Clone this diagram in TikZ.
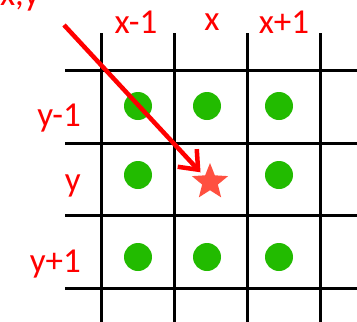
\documentclass[tikz,border=0pt]{standalone}
\usepackage{fontspec}
\setmainfont{Carlito}
\usetikzlibrary{arrows.meta,shapes.geometric}
\definecolor{dotgreen}{HTML}{22BB00}
\definecolor{starred}{HTML}{FF5040}

\begin{document}
\begin{tikzpicture}[
    x=1pt, y=-1pt,
    gridline/.style={black, line width=3pt},
    cell/.style={circle, fill=dotgreen, inner sep=0pt, minimum size=28pt},
    centre/.style={star, star points=5, star point ratio=2.3, fill=starred, inner sep=0pt, minimum size=38pt},
    label/.style={text=red, font=\fontsize{35}{40}\selectfont, inner sep=0pt},
    pointer/.style={-{Straight Barb[length=16pt, width=26pt, line width=4.5pt]}, red, line width=4.5pt}
]
    \useasboundingbox (0,0) rectangle (357,322);

    % Grid
    \foreach \gy in {70,143,215,288}
        \draw[gridline] (65,\gy) -- (357,\gy);
    \foreach \gx in {101,174,247,320}
        \draw[gridline] (\gx,33) -- (\gx,322);

    % Neighbours
    \node[cell] (nw) at (138,106) {};
    \node[cell] (n)  at (207,106) {};
    \node[cell] (ne) at (279,106) {};
    \node[cell] (w)  at (138,175) {};
    \node[cell] (e)  at (279,175) {};
    \node[cell] (sw) at (138,257) {};
    \node[cell] (s)  at (207,257) {};
    \node[cell] (se) at (279,257) {};
    \node[centre] (xy) at (210,182) {};

    % Labels
    \node[label] (xm) at (136,22) {x-1};
    \node[label] (x0) at (212,22) {x};
    \node[label] (xp) at (284,22) {x+1};
    \node[label, anchor=east] (ym) at (81,118) {y-1};
    \node[label, anchor=east] (y0) at (81,186) {y};
    \node[label, anchor=east] (yp) at (81,264) {y+1};
    \node[label, anchor=base east] (pt) at (40,5) {x,y};

    % Pointer
    \coordinate (tail) at (64,25);
    \draw[pointer, shorten >=4pt] (tail) -- (xy.north west);
\end{tikzpicture}
\end{document}
